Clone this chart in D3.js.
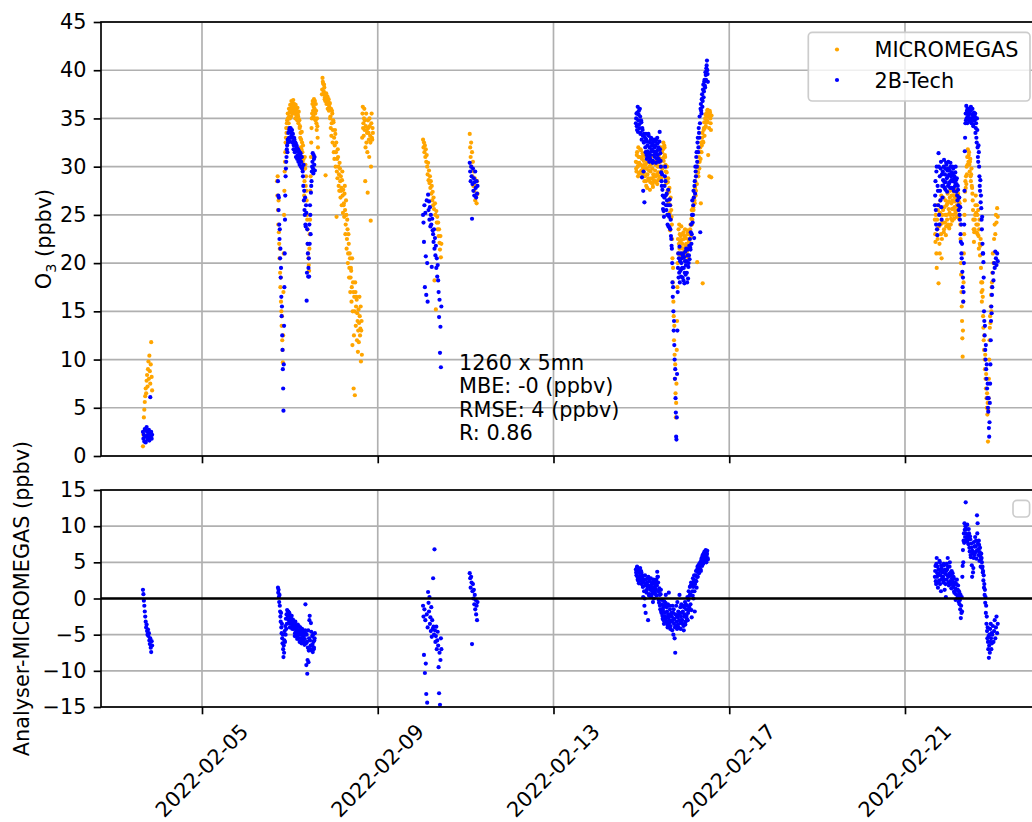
<!DOCTYPE html>
<html><head><meta charset="utf-8">
<script src="https://cdn.jsdelivr.net/npm/d3@7"></script>
<style>html,body{margin:0;padding:0;background:#fff;overflow:hidden}svg{display:block}</style>
</head><body><svg id="c" width="1032" height="822"></svg>
<script>
// ---------- DATA ----------
const xDomain = ["2022-02-02T16:50", "2022-02-24T01:45"];
const xTicks = ["2022-02-05", "2022-02-09", "2022-02-13", "2022-02-17", "2022-02-21"];
const yTopTicks = [0, 5, 10, 15, 20, 25, 30, 35, 40, 45];
const yBotTicks = [-15, -10, -5, 0, 5, 10, 15];
const seriesNames = ["MICROMEGAS", "2B-Tech"];
const statLines = ["1260 x 5mn", "MBE: -0 (ppbv)", "RMSE: 4 (ppbv)", "R: 0.86"];

// runs: [start time, step in minutes, values]
const micromegasRuns = [
 ["2022-02-03T15:45", 15, [1.0,2.2,4.0,4.8,5.6,6.2,7.0,6.5,7.8,8.4,7.2,9.0,9.8,8.0,10.4,8.8,7.5,9.5,11.8,8.2,6.8]],
 ["2022-02-06T17:00", 10, [28.5,27.0,29.0,25.5,24.0,26.5,23.2,22.0,20.5,21.5,19.0,17.5,18.5,16.0,15.0,13.5,14.5,12.0,11.0,9.7,12.5,17.0,21.0,25.0,27.5,29.5,30.5,31.5,32.5,33.0,34.0,33.5,34.5]],
 ["2022-02-06T22:30", 20, [34.8,35.5,35.0,36.0,35.6,36.4,36.0,36.8,36.3,36.6,36.9,36.2,36.5,35.8,36.4,36.0,35.5,36.1,35.2,35.7,34.8,
   34.2,33.5,32.8,33.6,31.5,32.2,30.8,27.0,31.0,30.2,
   29.0,26.5,24.5,22.0,20.5,19.2,23.0,27.5,31.0,34.0,
   35.5,36.8,35.2,37.0,36.0,35.5,36.5,34.5,35.0,33.0]],
 ["2022-02-06T22:40", 20, [34.0,35.0,34.5,35.2,35.0,35.8,35.2,36.0,35.5,36.2,35.8,35.5,35.9,35.0,35.6,35.3,34.8,35.4,34.5,34.9,34.0,
   33.0,32.0,31.8,32.5,30.5,31.0,29.8,28.5,29.8,28.0,
   27.5,25.0,23.5,21.0,19.8,21.5,24.5,29.0,32.5,35.0,
   36.5,35.8,36.2,35.0,36.8,34.8,35.8,33.8,34.2,32.0]],
 ["2022-02-07T17:30", 20, [37.5,39.2,38.6,37.8,38.2,37.2,29.1,37.6,36.8,37.3,36.5,37.0,36.2,
   36.6,35.2,36.0,34.5,35.5,33.8,34.6,33.0,32.2,33.4,31.5,24.8,30.8,31.8,30.0,29.2,30.4,28.5,29.0,27.8,28.6,27.0,27.6,26.2,27.2,
   25.5,24.0,25.0,22.5,23.5,21.0,22.0,19.5,20.5,18.5,19.2,17.5,11.5,18.0,7.0,16.5,6.3,17.0,15.5,16.2,14.8,10.8,15.2,13.8,14.5,13.2,9.8,14.0,
   33.0,36.2,34.5,35.0,33.8,28.5,34.2,32.5,33.5,27.3,34.0,32.8,35.0,33.2,24.4,34.5,33.0,34.0]],
 ["2022-02-07T17:40", 20, [38.0,38.8,37.5,38.5,37.0,36.8,37.4,36.5,37.2,36.0,36.8,35.8,36.5,
   35.0,34.0,33.2,35.8,32.5,34.8,31.5,30.8,33.8,30.0,32.5,29.5,28.8,31.0,28.0,27.5,29.8,26.8,27.5,26.0,29.5,25.2,26.0,24.8,28.0,
   23.0,26.5,21.5,24.5,20.0,23.0,18.5,21.0,17.0,19.5,16.0,20.5,15.0,17.0,12.5,15.0,18.0,13.5,16.5,12.0,14.0,13.0,11.8,16.5,12.5,15.5,13.0,10.5,
   35.5,34.0,33.2,36.0,34.8,32.0,35.5,33.8,31.5,34.8,33.5,31.0,34.2,32.5,30.0,35.5,32.8,33.5]],
 ["2022-02-10T00:45", 15, [32.8,32.0,32.5,31.5,32.2,31.0,31.8,30.5,31.2,
   30.0,29.2,30.4,28.6,29.6,28.3,29.0,27.8,28.5,
   27.2,28.0,26.5,27.4,26.0,26.8,25.6,18.2,26.2,25.0,15.2,25.4,24.2,
   24.8,23.5,24.2,22.8,23.5,22.1,21.4,22.8,20.6,22.0]],
 ["2022-02-11T02:15", 15, [33.4,32.0,31.0,32.5,30.0,31.5,29.0,30.5,28.0,29.5,27.5,28.8,26.5,28.0,27.0,26.2,28.5,27.2]],
 ["2022-02-14T21:00", 20, [30.5,29.5,31.5,30.0,32.0,29.3,31.0,30.2,31.7,29.6,30.8,31.4,29.8,30.6,28.5,
   29.0,31.0,28.0,30.4,29.2,31.4,28.6,30.0,27.6,29.5,31.0,28.3,29.8,27.9,30.5,29.0,
   28.5,30.2,29.0,31.0,28.2,30.0,29.4,31.2,28.8,30.5,32.0,29.5,31.5,30.0,32.5,31.0,
   32.0,31.0,29.5,28.3,30.0,27.5,28.8,26.5,27.8,23.4,26.8,25.5]],
 ["2022-02-14T21:10", 20, [29.8,31.2,30.4,29.0,31.0,30.4,29.4,31.8,30.2,31.0,29.2,30.0,31.2,29.4,30.2,
   30.2,28.5,29.8,27.8,30.8,28.8,29.6,31.2,28.4,30.2,28.8,30.6,28.2,29.2,28.6,30.4,
   29.6,28.4,30.6,29.2,30.4,28.6,30.8,29.0,30.0,31.6,28.8,30.8,29.8,31.8,30.6,32.2,
   31.2,30.2,28.8,29.4,27.2,28.4,26.2,27.4,25.2,26.0,24.6,24.8]],
 ["2022-02-15T16:40", 10, [24.0,22.5,20.5,18.0,19.5,16.0,14.5,12.0,13.5,10.5,8.0,9.5,6.5,4.0,5.5,7.5,
   11.0,14.0,17.5,20.0,22.5,21.0,23.5,22.0,24.0,21.5,23.0,22.2,20.8,22.8,21.6,23.8,22.4]],
 ["2022-02-15T22:10", 20, [21.0,23.0,20.5,22.5,21.5,23.5,20.8,22.0,21.2,23.0,20.6,22.4,21.8,
   22.5,24.0,23.0,25.5,24.5,26.5,25.5,27.5,26.2,28.5,27.5,29.5,20.1,30.0,29.0,31.0,
   30.5,32.0,26.2,31.5,33.0,17.9,32.5,34.0,33.2,35.0,34.2,35.5,34.8,35.9,31.2,35.2,29.0,35.6,34.5,28.9]],
 ["2022-02-15T22:20", 20, [22.0,21.5,23.2,21.0,22.8,21.8,22.6,21.0,23.4,21.6,23.2,22.2,23.0,
   23.5,22.8,24.6,24.0,25.0,25.8,26.8,26.5,27.8,27.0,29.0,28.2,30.0,29.4,30.5,29.8,
   31.5,30.8,32.5,32.2,33.5,32.6,33.8,34.6,34.0,35.4,34.6,35.2,35.8,34.6,35.4,34.0,35.8,35.0,33.8,35.3]],
 ["2022-02-21T16:20", 20, [24.5,22.2,26.0,19.5,23.5,25.5,17.9,24.0,21.0,26.5,23.0,20.5,25.0,
   24.2,26.8,23.5,27.8,25.0,22.9,26.0,24.5,27.2,23.8,26.4,25.2,27.5,24.0,26.2,25.6,
   26.5,25.0,27.4,25.8,26.8,25.2,27.0,26.0,25.5,27.2,26.4,25.0]],
 ["2022-02-21T16:30", 20, [23.0,25.0,21.0,24.5,22.5,26.0,23.8,22.0,25.2,24.0,27.0,22.5,24.2,
   25.5,23.2,25.8,24.2,26.5,23.8,25.0,26.2,24.0,25.6,23.6,26.8,25.0,24.6,27.0,24.4,
   25.6,27.0,24.6,26.4,25.4,27.6,24.8,26.6,27.0,25.8,24.6,26.2]],
 ["2022-02-22T06:00", 10, [25.8,24.0,22.5,20.0,18.8,17.0,15.5,14.0,12.2,10.3,13.0,16.0,18.0,21.0,23.0,25.0,26.5,27.4,28.5,27.8,29.0,28.2,30.0,29.2,31.0,30.2]],
 ["2022-02-22T10:20", 20, [31.8,30.5,31.5,29.5,30.8,28.5,29.8,27.8,26.5,24.5,22.2,
   23.5,25.0,27.0,24.0,26.0,23.0,25.5,21.5,24.5,20.8,22.5,18.0,16.0,17.2]],
 ["2022-02-22T10:30", 20, [31.0,31.2,30.2,30.5,29.0,29.2,28.0,27.2,25.5,23.5,23.2,
   24.5,26.0,25.2,23.2,25.0,24.0,22.8,23.5,22.0,21.8,19.5,17.0,18.0,16.5]],
 ["2022-02-22T18:40", 10, [14.5,13.3,12.0,11.0,12.5,10.0,9.0,10.5,8.0,7.0,8.5,6.0,5.0,6.5,4.3,5.5,1.5,4.8,6.0,8.0,10.0,12.0,13.3,14.5,13.8,15.5,16.7,15.0,17.5,18.0]],
 ["2022-02-22T23:40", 20, [19.0,21.0,20.0,22.5,24.0,23.0,25.0,24.2,25.7,24.8]]
];

const techRuns = [
 ["2022-02-03T15:45", 15, [2.5,1.8,2.2,1.5,2.8,2.0,1.4,2.6,3.0,2.1,1.7,2.4,1.9,2.7,1.6,2.3,6.1,2.0,2.5,1.8,2.2]],
 ["2022-02-06T17:30", 10, [28.5,27.0,25.5,26.8,24.0,22.5,23.5,20.5,21.5,18.5,19.5,16.5,14.5,15.5,12.5,11.0,9.0,7.0,4.7,9.5,13.5,17.5,21.0,24.5,27.0,29.0,29.8,30.5,31.0,31.8]],
 ["2022-02-06T22:30", 20, [32.2,32.8,33.5,33.0,34.0,33.6,33.9,33.2,33.8,33.0,
   32.6,32.2,32.8,31.8,32.4,31.6,32.0,31.2,31.8,31.0,31.5,30.8,31.4,30.5,31.0,
   30.0,29.0,30.2,27.5,25.0,24.0,26.0,16.1,23.5,21.0,
   19.5,18.6,22.0,25.0,27.3,28.5,
   30.0,31.4,29.3,30.8,31.0]],
 ["2022-02-06T22:40", 20, [31.5,32.5,32.8,33.8,32.6,34.0,33.0,33.5,32.5,33.4,
   31.8,33.0,31.5,32.5,31.0,32.2,30.8,31.8,30.5,31.6,30.2,31.2,30.0,31.0,29.8,
   29.5,28.0,26.5,25.5,26.8,23.8,25.2,19.0,22.0,18.6,
   20.5,24.0,26.0,23.0,28.0,29.5,
   30.5,29.8,31.2,30.2,29.6]],
 ["2022-02-10T00:45", 15, [25.0,24.2,22.2,26.0,17.5,25.2,20.7,16.7,26.5,20.0,16.0,
   27.1,25.5,26.4,24.5,25.8,23.8,25.0,24.0,19.6,24.6,23.4,
   23.0,22.2,23.5,21.5,22.6,20.8,21.8,19.5,20.5,18.6,19.8,
   18.2,17.0,14.4,16.2,10.7,13.4,9.2,15.5]],
 ["2022-02-11T02:15", 15, [30.4,29.5,28.5,30.0,29.0,24.6,28.2,29.8,27.5,28.8,27.0,28.4,29.5,27.8,26.8,28.5,27.2,28.0]],
 ["2022-02-14T21:00", 20, [34.5,35.5,33.8,36.2,34.8,35.8,34.0,35.2,33.5,34.6,28.9,33.8,27.5,32.5,26.3,
   33.0,31.5,32.8,30.8,32.2,31.0,33.2,30.5,32.5,31.2,33.0,31.8,32.4,30.6,31.6,32.8,
   31.0,32.2,30.4,31.6,33.0,31.2,32.0,30.5,33.6,31.4,30.0,28.5,29.2,27.0,26.2,24.8,
   28.0,30.0,27.0,25.5,26.5,24.0,27.6,25.0,23.7,26.0,24.5,22.5]],
 ["2022-02-14T21:10", 20, [35.0,34.2,35.6,33.6,35.4,34.4,36.0,33.4,34.8,32.8,34.0,33.2,29.5,33.4,32.6,
   32.0,33.4,31.2,32.6,31.6,33.4,31.4,32.0,30.8,32.8,31.6,32.2,30.4,32.6,31.2,32.0,
   32.6,31.4,32.8,30.8,32.4,31.8,30.8,32.6,31.8,30.6,29.4,28.0,27.6,25.6,25.4,26.8,
   29.0,28.5,26.0,27.2,25.0,26.0,23.8,24.8,26.6,23.5,22.8,21.8]],
 ["2022-02-15T16:40", 10, [21.5,20.0,18.0,16.5,17.5,15.0,13.0,14.0,11.5,10.0,8.0,9.0,6.0,4.5,2.0,1.7,
   4.0,8.5,13.0,17.0,19.5,21.0,18.5,20.5,19.0,21.7,18.0,20.2,19.2,21.0,18.6,20.0,19.4]],
 ["2022-02-15T22:10", 20, [20.5,18.5,21.0,19.5,17.9,20.2,18.8,21.5,19.0,20.8,18.4,20.0,21.8,
   22.5,21.4,24.0,23.0,26.5,25.0,27.5,22.6,28.5,30.0,29.0,31.5,30.5,33.0,32.0,33.5,
   35.2,23.2,36.5,35.5,37.5,36.8,38.5,37.8,39.0,38.2,39.5,40.2,41.0,39.6]],
 ["2022-02-15T22:20", 20, [19.5,20.8,18.2,20.6,19.0,21.2,19.8,20.2,18.0,21.4,19.6,20.8,20.4,
   21.6,23.2,22.0,25.0,24.2,26.0,26.8,28.0,27.2,29.5,31.0,30.0,32.5,31.5,34.0,33.0,
   34.5,36.0,35.8,37.0,36.2,38.0,37.2,38.8,38.4,39.8,39.0,40.5,40.0,38.8]],
 ["2022-02-21T16:20", 20, [26.0,28.5,24.0,30.0,22.9,27.5,31.4,25.0,29.0,26.5,30.5,24.5,28.0,
   29.5,28.0,30.7,27.8,29.8,28.4,30.2,27.4,29.0,30.5,28.2,29.6,27.8,30.0,28.6,29.4,
   28.5,29.8,27.5,29.0,28.0,30.0,27.4,28.8,26.5,27.6,25.5,26.8]],
 ["2022-02-21T16:30", 20, [27.0,25.5,29.5,23.5,28.0,26.0,30.0,24.0,27.5,29.8,25.8,29.2,26.8,
   28.6,30.0,28.4,29.2,27.6,30.4,28.8,29.6,28.0,29.8,29.2,28.4,30.4,29.0,27.8,30.0,
   29.2,27.8,28.8,28.4,29.4,28.6,28.2,27.0,28.0,26.0,26.8,25.0]],
 ["2022-02-22T06:00", 10, [24.5,25.8,23.0,22.2,24.0,21.0,20.5,22.0,19.1,17.5,18.5,16.0,17.0,20.0,24.0,27.5,31.6,33.0,34.5,35.5,34.8,36.3,35.0,35.8,34.5,36.0]],
 ["2022-02-22T10:20", 20, [35.2,36.0,34.8,35.6,35.0,36.2,34.5,35.4,35.0,34.2,35.6,
   34.8,35.5,34.0,33.0,35.0,32.0,30.5,31.5,29.0,27.5,26.3,25.7,23.5,22.0]],
 ["2022-02-22T10:30", 20, [35.6,35.4,36.0,34.8,35.8,34.6,35.0,36.0,34.4,35.2,34.8,
   35.2,33.5,34.5,32.5,33.8,31.0,32.2,30.0,28.0,28.6,27.0,24.5,24.8,21.0]],
 ["2022-02-22T18:40", 10, [21.0,20.1,18.5,15.0,14.0,12.5,13.5,11.0,10.0,11.5,9.0,8.0,9.5,7.0,6.0,7.5,5.0,4.6,6.0,2.9,2.0,3.5,5.5,7.5,9.5,12.0,14.0,15.5,14.8,16.7]],
 ["2022-02-22T23:40", 20, [17.5,19.0,18.2,20.0,19.5,21.2,20.5,19.8,21.0,20.2]]
];

// Analyser - MICROMEGAS
const diffRuns = [
 ["2022-02-03T15:45", 15, [1.2,0.6,-0.3,-1.0,-1.8,-2.5,-3.2,-4.0,-3.6,-4.5,-5.0,-4.3,-5.2,-4.8,-5.8,-6.3,-5.5,-6.8,-7.4,-5.9,-6.5]],
 ["2022-02-06T17:30", 10, [1.5,0.8,1.2,0.2,-0.5,0.5,-1.0,-1.8,-2.5,-3.2,-2.0,-4.0,-4.8,-3.5,-5.5,-6.2,-5.0,-7.0,-8.1,-6.5,-7.5,-5.8,-4.5,-6.0,-3.8,-5.0,-2.8,-4.2,-2.2,-3.5]],
 ["2022-02-06T22:30", 20, [-1.6,-2.4,-1.8,-3.0,-2.2,-3.5,-2.6,-4.0,-3.0,-3.6,
   -3.2,-4.2,-3.6,-4.8,-3.9,-5.0,-4.2,-5.4,-4.5,-3.8,-5.0,-4.6,-5.5,-4.8,-5.7,-4.4,-5.2,-6.0,-4.8,-5.6,
   -0.8,-6.2,-5.0,-10.4,-6.8,-8.8,-5.5,-2.4,-7.0,-3.4,-6.5,
   -5.2,-7.4,-6.0,-6.8,-5.5]],
 ["2022-02-06T22:40", 20, [-2.8,-1.8,-3.4,-2.0,-4.0,-2.8,-3.2,-2.4,-4.2,-2.9,
   -4.0,-3.4,-5.2,-3.2,-4.6,-4.0,-5.6,-3.6,-5.0,-4.4,-6.0,-4.0,-5.0,-6.2,-4.2,-5.8,-4.6,-5.2,-6.4,-4.4,
   -4.8,-9.2,-6.0,-8.5,-4.4,-7.2,-3.0,-5.8,-6.5,-4.6,-7.2,
   -6.4,-5.0,-7.0,-5.8,-4.8]],
 ["2022-02-10T00:45", 15, [-1.0,-2.5,-7.8,-1.5,-10.3,-3.0,-9.0,-13.2,-2.2,-14.4,-4.0,
   0.9,-0.6,-1.8,0.2,-3.5,-2.6,-4.5,-1.2,-5.3,-3.0,-4.2,
   2.8,-3.9,-5.0,6.8,-4.4,-6.0,-5.2,-3.9,-7.0,-5.8,-4.6,
   -6.5,-9.5,-13.1,-7.5,-14.7,-8.5,-5.5,-7.0]],
 ["2022-02-11T02:15", 15, [3.5,2.8,1.5,3.0,2.2,-6.3,1.0,2.0,0.0,1.2,-0.8,0.5,-1.5,-0.2,-2.2,-1.0,-3.0,-0.5]],
 ["2022-02-14T21:00", 20, [4.0,3.2,4.4,2.6,3.8,2.1,3.5,4.2,2.8,3.6,2.4,3.0,0.2,2.2,-1.0,
   3.2,-2.0,2.0,1.2,2.8,-3.0,1.8,0.6,2.4,1.4,0.2,2.0,1.0,-0.5,2.6,1.5,
   0.8,2.2,1.2,0.4,3.7,3.0,1.0,-0.6,0.5,-1.5,1.2,-2.0,-0.8,-2.8,-1.2,-3.5,
   -1.0,-2.5,0.5,-3.2,-1.8,-4.0,-2.2,0.8,-3.0,-1.5,-3.8,-2.0]],
 ["2022-02-14T21:10", 20, [3.6,4.2,3.0,3.8,2.4,4.0,3.0,2.6,3.8,2.0,3.2,1.6,2.6,1.0,0.0,
   1.8,2.6,0.8,2.2,1.6,3.0,0.4,2.4,1.2,2.8,1.6,0.6,2.2,1.2,0.0,2.0,
   1.6,0.6,2.6,1.8,3.0,2.2,-0.2,1.4,-1.0,0.6,-1.8,-0.2,-2.4,-1.6,-3.0,-0.4,
   -2.0,-0.6,-2.8,-1.2,-3.6,-0.8,-2.6,-3.4,-1.0,-4.2,-2.4,-3.2]],
 ["2022-02-15T16:40", 10, [-2.5,-4.4,-1.0,-3.0,-2.0,-5.0,-1.5,-3.5,-2.8,-5.5,-4.0,-7.5,-2.2,-3.8,-1.0,-3.2,-2.4,-4.2,-0.5,-2.6,-3.6,-1.8,-4.0,-2.2,-3.0,0.5,-2.0,-3.4,-1.2,-4.2,-2.5,-0.8,-3.0]],
 ["2022-02-15T22:10", 20, [-2.0,-3.5,-1.0,-4.4,-2.5,-0.5,-3.2,-1.5,-2.8,0.2,-2.0,1.0,-1.2,
   1.6,-0.8,2.2,-2.6,1.0,2.8,0.0,3.2,-1.8,2.5,3.8,1.5,4.0,3.0,4.6,3.5,
   4.2,5.0,3.8,5.5,4.5,6.0,4.8,5.2,6.5,5.5,6.7,5.0,6.2,5.6]],
 ["2022-02-15T22:20", 20, [-3.0,-1.8,-3.8,-1.2,-2.2,-3.6,-0.8,-2.4,-1.0,-3.0,-0.2,-1.6,0.4,
   0.6,1.8,-1.6,2.0,0.4,1.6,2.4,1.0,2.0,3.2,2.4,3.0,4.4,3.6,4.0,4.8,
   4.6,4.0,5.2,4.8,5.8,5.2,6.2,5.4,5.8,6.4,5.2,6.0,6.6,5.4]],
 ["2022-02-21T16:20", 20, [3.0,4.5,2.0,5.6,3.5,1.5,4.0,2.5,5.0,3.2,1.0,4.2,2.8,
   3.8,2.2,4.6,1.2,3.4,0.2,2.6,4.0,5.6,3.0,1.8,4.4,2.4,3.6,1.4,2.8,
   3.5,1.6,2.8,0.8,2.2,-0.2,1.2,2.6,0.4,1.8,-0.5,0.8]],
 ["2022-02-21T16:30", 20, [3.8,2.4,4.8,3.0,4.4,2.2,3.4,5.2,2.0,3.8,4.6,2.6,3.6,
   3.0,4.8,2.6,4.0,2.0,3.8,4.8,3.2,4.4,2.2,3.4,5.0,3.2,2.0,3.8,2.2,
   2.4,3.0,1.0,2.0,1.4,0.6,2.0,0.0,1.2,0.2,1.0,-0.8]],
 ["2022-02-22T06:00", 10, [-0.2,-1.5,0.5,-2.7,-1.0,-2.0,0.2,-1.8,3.0,4.5,6.7,5.0,8.0,9.0,7.7,10.4,9.5,8.5,10.0,13.3,9.0,8.0,9.6,8.4,10.2,7.8]],
 ["2022-02-22T10:20", 20, [8.8,7.5,9.0,6.5,8.2,5.7,7.0,3.0,6.2,4.2,7.8,
   6.0,8.5,7.2,5.5,11.5,10.4,6.8,8.0,5.2,7.0,4.4,6.2,5.0,4.4]],
 ["2022-02-22T10:30", 20, [8.2,9.6,7.0,8.6,6.0,7.6,4.6,6.6,3.6,5.6,7.2,
   7.2,6.4,8.0,6.6,9.0,7.6,6.0,7.4,6.4,5.8,5.4,5.6,4.2,3.6]],
 ["2022-02-22T18:40", 10, [3.8,2.5,3.2,1.5,2.0,0.5,1.2,-0.6,0.2,-2.0,-1.0,-3.5,-2.5,-4.5,-5.5,-4.0,-6.0,-7.0,-5.2,-8.2,-6.5,-5.0,-7.5,-4.2,-6.0,-3.5,-5.5,-7.0,-4.8,-6.2]],
 ["2022-02-22T23:40", 20, [-5.0,-3.8,-6.0,-4.5,-3.0,-5.5,-4.0,-2.5,-4.8,-3.5]]
];

// ---------- DRAW ----------
const FS = 20.8, TICK = 7.3, PAD = 7.3, LW = 1.67;
const L = 101, R = 1040, topT = 22, topB = 456, botT = 490, botB = 707;
const FONT = "DejaVu Sans, sans-serif";
const cOrange = "orange", cBlue = "blue", cGrid = "#b0b0b0";

const parseT = d3.timeParse("%Y-%m-%dT%H:%M");
const parseD = d3.timeParse("%Y-%m-%d");
const fmtD = d3.timeFormat("%Y-%m-%d");
const expand = runs => runs.flatMap(([s, step, vals]) => {
  const t0 = parseT(s);
  return vals.map((v, i) => ({t: d3.timeMinute.offset(t0, i * step), v}));
});
const mic = expand(micromegasRuns), tec = expand(techRuns), dif = expand(diffRuns);

const x = d3.scaleTime().domain(xDomain.map(parseT)).range([L, R]);
const yT = d3.scaleLinear().domain([0, 45]).range([topB, topT]);
const yB = d3.scaleLinear().domain([-15, 15]).range([botB, botT]);
const ticksX = xTicks.map(parseD);
const minus = d => String(d).replace("-", "\u2212");

const svg = d3.select("#c").attr("font-family", FONT);
const defs = svg.append("defs");
defs.append("clipPath").attr("id", "clipT").append("rect").attr("x", L).attr("y", topT).attr("width", R - L).attr("height", topB - topT);
defs.append("clipPath").attr("id", "clipB").append("rect").attr("x", L).attr("y", botT).attr("width", R - L).attr("height", botB - botT);

function panel(y, yTicks, top, bottom, clip) {
  const g = svg.append("g");
  g.append("g").selectAll("line").data(ticksX).join("line")
    .attr("x1", d => x(d)).attr("x2", d => x(d)).attr("y1", top).attr("y2", bottom)
    .attr("stroke", cGrid).attr("stroke-width", LW);
  g.append("g").selectAll("line").data(yTicks).join("line")
    .attr("x1", L).attr("x2", R).attr("y1", d => y(d)).attr("y2", d => y(d))
    .attr("stroke", cGrid).attr("stroke-width", LW);
  const data = g.append("g").attr("clip-path", `url(#${clip})`);
  return {g, data};
}

const pT = panel(yT, yTopTicks, topT, topB, "clipT");
const pB = panel(yB, yBotTicks, botT, botB, "clipB");

pT.data.append("g").selectAll("circle").data(mic).join("circle")
  .attr("cx", d => x(d.t)).attr("cy", d => yT(d.v)).attr("r", 2.1).attr("fill", cOrange);
pT.data.append("g").selectAll("circle").data(tec).join("circle")
  .attr("cx", d => x(d.t)).attr("cy", d => yT(d.v)).attr("r", 2.1).attr("fill", cBlue);
pB.data.append("g").selectAll("circle").data(dif).join("circle")
  .attr("cx", d => x(d.t)).attr("cy", d => yB(d.v)).attr("r", 2.1).attr("fill", cBlue);
pB.data.append("line").attr("x1", L).attr("x2", R).attr("y1", yB(0)).attr("y2", yB(0))
  .attr("stroke", "black").attr("stroke-width", 2.6);

function styleAxis(sel) {
  sel.attr("font-family", FONT).attr("font-size", FS);
  sel.select(".domain").remove();
  sel.selectAll(".tick line").attr("stroke", "black").attr("stroke-width", LW);
  sel.selectAll(".tick text").attr("fill", "black");
}
svg.append("g").attr("transform", `translate(${L},0)`)
  .call(d3.axisLeft(yT).tickValues(yTopTicks).tickSize(TICK).tickPadding(PAD).tickFormat(minus)).call(styleAxis);
svg.append("g").attr("transform", `translate(${L},0)`)
  .call(d3.axisLeft(yB).tickValues(yBotTicks).tickSize(TICK).tickPadding(PAD).tickFormat(minus)).call(styleAxis);
svg.append("g").attr("transform", `translate(0,${topB})`)
  .call(d3.axisBottom(x).tickValues(ticksX).tickSize(TICK).tickFormat("")).call(styleAxis);
svg.append("g").attr("transform", `translate(0,${botB})`)
  .call(d3.axisBottom(x).tickValues(ticksX).tickSize(TICK).tickFormat("")).call(styleAxis);

// rotated date labels
ticksX.forEach(d => {
  const t = svg.append("text").text(fmtD(d)).attr("font-size", FS).attr("fill", "black")
    .attr("text-anchor", "middle").attr("dominant-baseline", "central");
  const len = t.node().getComputedTextLength();
  const side = (len + FS * 1.0) * Math.SQRT1_2;
  t.attr("transform", `translate(${x(d)},${botB + TICK + PAD + side / 2 - 1}) rotate(-45)`);
});

[[topT, topB], [botT, botB]].forEach(([a, b]) => {
  svg.append("rect").attr("x", L).attr("y", a).attr("width", R - L).attr("height", b - a)
    .attr("fill", "none").attr("stroke", "black").attr("stroke-width", LW);
});

const yl1 = svg.append("text").attr("font-size", FS).attr("text-anchor", "middle")
  .attr("transform", `translate(51,${(topT + topB) / 2}) rotate(-90)`);
yl1.append("tspan").text("O");
yl1.append("tspan").text("3").attr("font-size", FS * 0.7).attr("dy", 4.5);
yl1.append("tspan").text(" (ppbv)").attr("dy", -4.5);
svg.append("text").attr("font-size", FS).attr("text-anchor", "middle")
  .attr("transform", `translate(29,${(botT + botB) / 2}) rotate(-90)`)
  .text("Analyser-MICROMEGAS (ppbv)");

const lg = svg.append("g");
lg.append("rect").attr("x", 808.3).attr("y", 32.3).attr("width", 221.7).attr("height", 68.7).attr("rx", 4)
  .attr("fill", "white").attr("fill-opacity", 0.8).attr("stroke", "#cccccc").attr("stroke-width", LW);
[[cOrange, 49.5, 57], [cBlue, 80, 88]].forEach(([c, cy, by], i) => {
  lg.append("circle").attr("cx", 837).attr("cy", cy).attr("r", 2.1).attr("fill", c);
  lg.append("text").attr("x", 874.5).attr("y", by).attr("font-size", FS).text(seriesNames[i]);
});
svg.append("rect").attr("x", 1013).attr("y", 500.4).attr("width", 16.6).attr("height", 16.6).attr("rx", 4)
  .attr("fill", "white").attr("fill-opacity", 0.8).attr("stroke", "#cccccc").attr("stroke-width", LW);

svg.append("g").selectAll("text").data(statLines).join("text")
  .attr("x", 459).attr("y", (d, i) => 370 + i * 23.3).attr("font-size", FS).text(d => d);
</script></body></html>
